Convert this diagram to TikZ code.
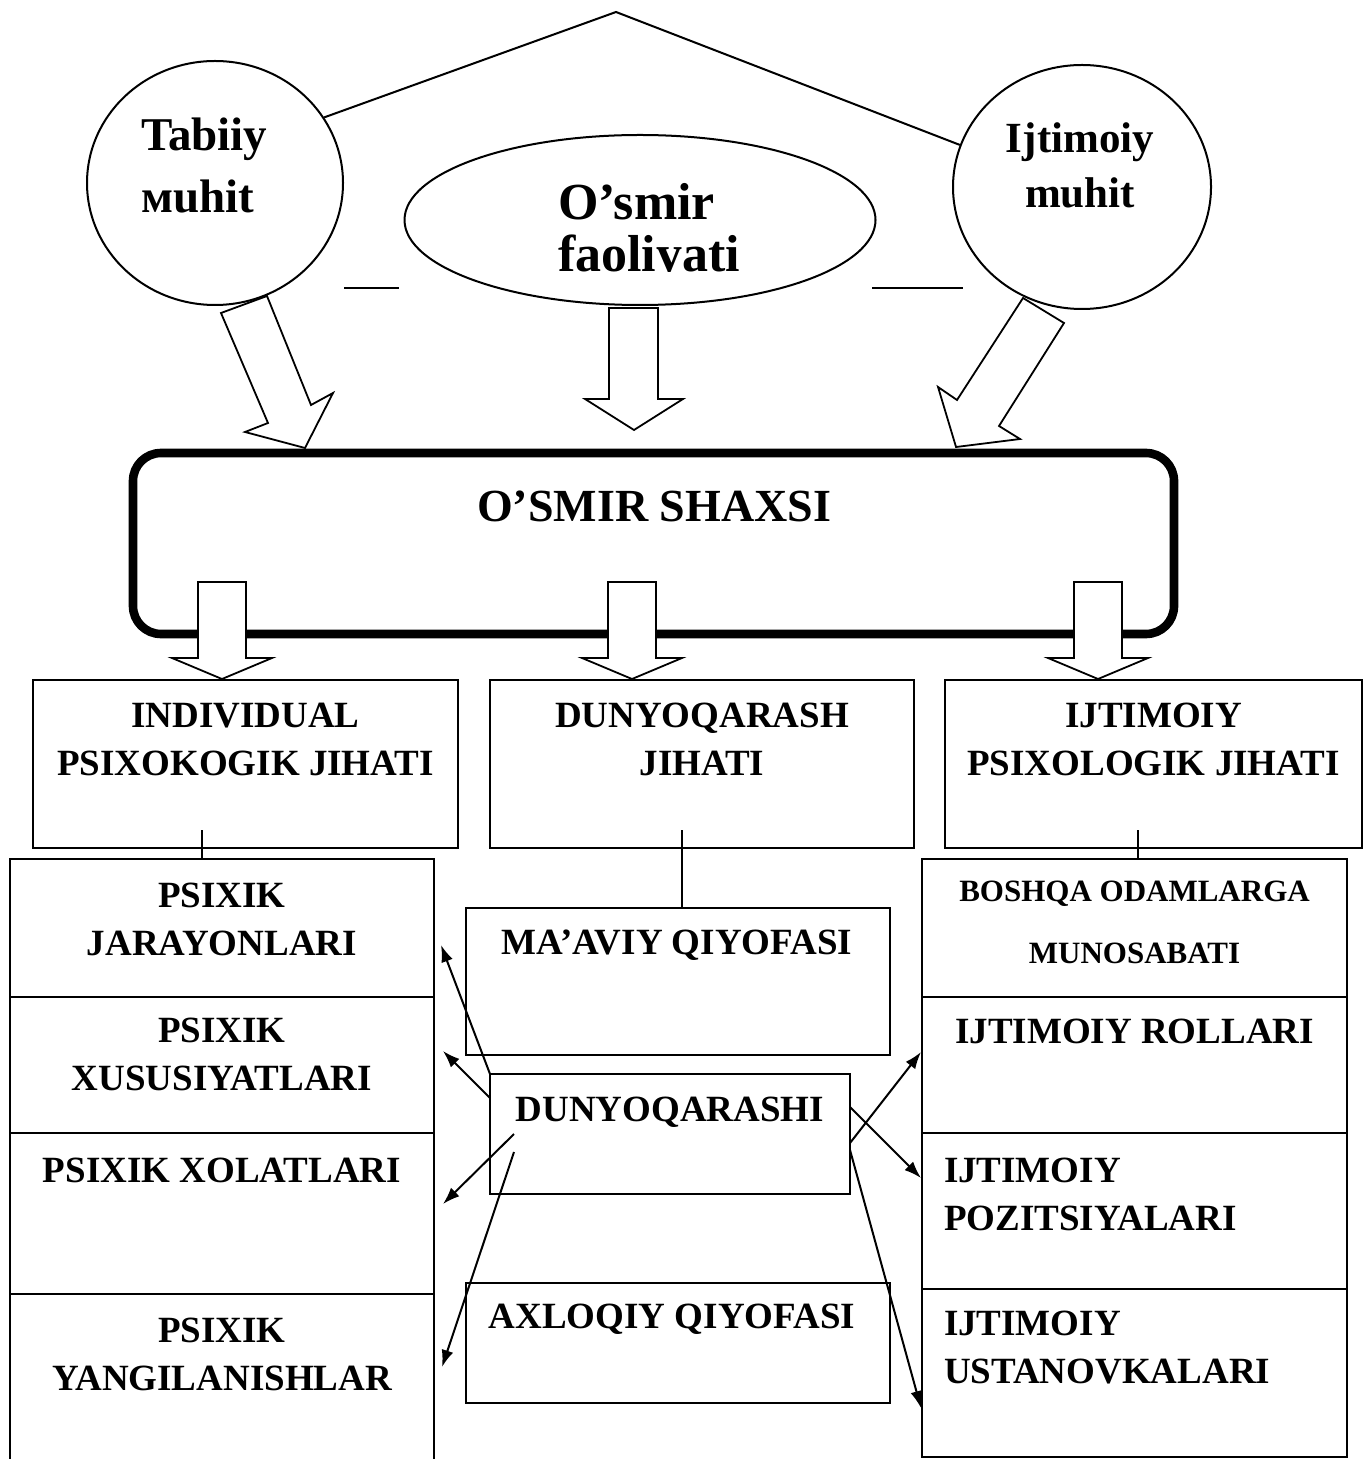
\documentclass[tikz,border=0pt]{standalone}
\usepackage{fontspec}
\setmainfont{Liberation Serif}
\usetikzlibrary{shapes.geometric,arrows.meta}

\begin{document}
\begin{tikzpicture}[x=0.5pt,y=-0.5pt,line width=1pt,
  envcirc/.style={ellipse, draw, inner sep=0pt},
  cellbox/.style={draw, rectangle, inner sep=0pt, outer sep=0pt},
  celltext/.style={anchor=north, align=center, inner sep=0pt, font=\bfseries\fontsize{18.5}{24}\selectfont},
  hollow/.style={draw, fill=white, line width=0.9pt},
  tipline/.style={-{Latex[length=8.5pt,width=6pt]}, line width=1pt}]
%%%%%%%%%%%%%%%%%%%%%%%%%%%%%%%%%%%%%%%%%%% HELP LINES
%\draw[help lines] (0,0) grid[step=100] (1364,1459);
\useasboundingbox (0,0) rectangle (1364,1459);

%%%%%%%%%%%%%%%%%%%%%%%%%%%%%%%%%%%%%%%%%%% environment
\node[envcirc, minimum width=128pt, minimum height=122pt] (tab) at (215,183) {};
\node[envcirc, minimum width=129pt, minimum height=122pt] (ijt) at (1082,187) {};
\node[envcirc, minimum width=235.5pt, minimum height=85pt] (osm) at (640,220) {};
\node[anchor=north west, align=left, inner sep=0pt, font=\bfseries\fontsize{23.5}{31}\selectfont] (tabtxt) at (140,117) {Tabiiy\\мuhit};
\node[anchor=north, align=center, inner sep=0pt, font=\bfseries\fontsize{21.5}{27.5}\selectfont] (ijttxt) at (1080,122) {Ijtimoiy\\muhit};
\begin{scope}
\clip (400,0) rectangle (900,272);
\node[anchor=north west, align=left, inner sep=0pt, font=\bfseries\fontsize{26}{26}\selectfont] (osmtxt) at (557,182) {O’smir\\faoliyati};
\end{scope}
\coordinate (apex) at (616,12);
\draw (tab.31) -- (apex) -- (ijt.161);
\draw (344,288) -- (399,288);
\draw (872,288) -- (963,288);

%%%%% block arrows into the person
\draw[hollow] (221,313) -- (268,423) -- (245,432) -- (305,448) -- (333,393) -- (311,405) -- (267,296) -- cycle;
\draw[hollow] (609,308) -- (658,308) -- (658,399) -- (683,399) -- (634,430) -- (585,399) -- (609,399) -- cycle;
\draw[hollow] (1023,298) -- (957,400) -- (938,387) -- (956,447) -- (1020,439) -- (999,426) -- (1064,323) -- cycle;

%%%%%%%%%%%%%%%%%%%%%%%%%%%%%%%%%%%%%%%%%%% person
\node[draw, rectangle, rounded corners=14pt, line width=4.3pt, minimum width=520.5pt, minimum height=90.5pt] (shax) at (653.5,543.5) {};
\node[anchor=north, inner sep=0pt, font=\bfseries\fontsize{23}{28}\selectfont] (shaxtxt) at (654,490) {O’SMIR SHAXSI};
\foreach \cx in {222,632,1098}
  \draw[hollow] (\cx-24,582) -- (\cx+24,582) -- (\cx+24,658) -- (\cx+50,658) -- (\cx,679) -- (\cx-50,658) -- (\cx-24,658) -- cycle;

%%%%%%%%%%%%%%%%%%%%%%%%%%%%%%%%%%%%%%%%%%% aspects
\node[cellbox, minimum width=212.5pt, minimum height=84pt] (indiv) at (245.5,764) {};
\node[cellbox, minimum width=212pt, minimum height=84pt] (dunyoj) at (702,764) {};
\node[cellbox, minimum width=208.5pt, minimum height=84pt] (ijtpsi) at (1153.5,764) {};
\node[celltext] (indivtxt) at (245.5,702) {INDIVIDUAL\\PSIXOKOGIK JIHATI};
\node[celltext] (dunyojtxt) at (702,702) {DUNYOQARASH\\JIHATI};
\node[celltext] (ijtpsitxt) at (1153.5,702) {IJTIMOIY\\PSIXOLOGIK JIHATI};

%%%%% left column
\node[cellbox, minimum width=212pt, minimum height=69pt] (jar) at (222,928) {};
\node[cellbox, minimum width=212pt, minimum height=68pt] (xus) at (222,1065) {};
\node[cellbox, minimum width=212pt, minimum height=80.5pt] (xol) at (222,1213.5) {};
\node[cellbox, draw=none, minimum width=212pt, minimum height=84pt] (yan) at (222,1378) {};
\draw (yan.south west) -- (yan.north west) -- (yan.north east) -- (yan.south east);
\node[celltext] (jartxt) at (222,882) {PSIXIK\\JARAYONLARI};
\node[celltext] (xustxt) at (222,1017) {PSIXIK\\XUSUSIYATLARI};
\node[celltext] (xoltxt) at (222,1157) {PSIXIK XOLATLARI};
\node[celltext] (yantxt) at (222,1317) {PSIXIK\\YANGILANISHLAR};

%%%%% middle column
\node[cellbox, minimum width=212pt, minimum height=73.5pt] (maav) at (678,981.5) {};
\node[cellbox, minimum width=180pt, minimum height=60pt] (dq) at (670,1134) {};
\node[cellbox, minimum width=212pt, minimum height=60pt] (axl) at (678,1343) {};
\node[celltext] (maavtxt) at (677,929) {MA’AVIY QIYOFASI};
\node[celltext] (dqtxt) at (670,1096) {DUNYOQARASHI};
\node[celltext] (axltxt) at (672,1303) {AXLOQIY QIYOFASI};

%%%%% right column
\node[cellbox, minimum width=212.5pt, minimum height=69pt] (bos) at (1134.5,928) {};
\node[cellbox, minimum width=212.5pt, minimum height=68pt] (rol) at (1134.5,1065) {};
\node[cellbox, minimum width=212.5pt, minimum height=78pt] (poz) at (1134.5,1211) {};
\node[cellbox, minimum width=212.5pt, minimum height=84pt] (ust) at (1134.5,1373) {};
\node[celltext, font=\bfseries\fontsize{15.5}{31}\selectfont] (bostxt) at (1134.5,880) {BOSHQA ODAMLARGA\\MUNOSABATI};
\node[celltext] (roltxt) at (1134.5,1018) {IJTIMOIY ROLLARI};
\node[celltext, anchor=north west, align=left] (poztxt) at (943,1157) {IJTIMOIY\\POZITSIYALARI};
\node[celltext, anchor=north west, align=left] (usttxt) at (943,1310) {IJTIMOIY\\USTANOVKALARI};

%%%%% stems
\coordinate (indivstem) at (202,830);
\coordinate (dunyojstem) at (682,830);
\coordinate (ijtpsistem) at (1138,830);
\draw (indivstem) -- (indivstem |- jar.north);
\draw (dunyojstem) -- (dunyojstem |- maav.north);
\draw (ijtpsistem) -- (ijtpsistem |- bos.north);

%%%%% arrows out of the world view
\coordinate (tojar) at (441,945);
\coordinate (toxus) at (443,1051);
\coordinate (toxol) at (443,1204);
\coordinate (toyan) at (442,1367);
\coordinate (torol) at (921,1052);
\coordinate (topoz) at (921,1178);
\coordinate (toust) at (921,1408);
\draw[tipline] (dq.north west) -- (tojar);
\draw[tipline] ([yshift=-12pt]dq.north west) -- (toxus);
\draw[tipline] ([shift={(12pt,-30pt)}]dq.north west) -- (toxol);
\draw[tipline] ([shift={(12pt,-39pt)}]dq.north west) -- (toyan);
\draw[tipline] ([yshift=-4.5pt]dq.east) -- (torol);
\draw[tipline] ([yshift=13.5pt]dq.east) -- (topoz);
\draw[tipline] ([yshift=-8pt]dq.east) -- (toust);
\end{tikzpicture}
\end{document}
